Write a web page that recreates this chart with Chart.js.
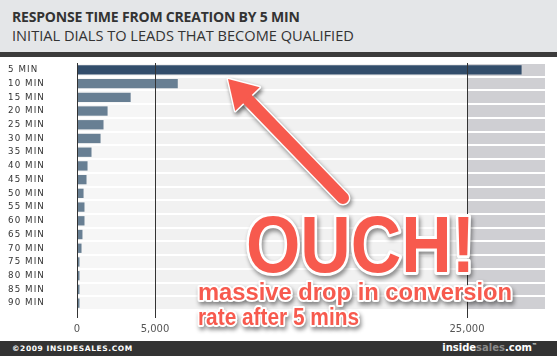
<!DOCTYPE html>
<html><head><meta charset="utf-8">
<script src="https://cdn.jsdelivr.net/npm/chart.js@4/dist/chart.umd.min.js"></script>
<style>
html,body{margin:0;padding:0;background:#fff;}
#wrap{position:relative;width:557px;height:356px;overflow:hidden;}
#c{position:absolute;left:0;top:0;}
#head{position:absolute;left:0;top:0;width:557px;height:52px;background:#e4e6e8;border-bottom:5px solid #3b3b3b;}
#t1{position:absolute;left:12px;top:7px;font:bold 14px 'Open Sans';color:#333;white-space:nowrap;letter-spacing:-0.2px;}
#t2{position:absolute;left:12px;top:25px;font:14.6px 'Open Sans';color:#333;white-space:nowrap;letter-spacing:0px;}
#foot{position:absolute;left:0;top:341px;width:557px;height:15px;background:#333;}
#f1{position:absolute;left:12px;top:3px;font:bold 7.5px 'DejaVu Sans';color:#fff;letter-spacing:0.6px;white-space:nowrap;}
#f2{position:absolute;right:20px;top:1px;font:bold 10px 'DejaVu Sans';color:#fff;white-space:nowrap;}
#f2 span{color:#8a8a8a;}
#f2 sup{font-size:5px;vertical-align:top;}
</style></head>
<body>
<div id="wrap">
<canvas id="c" width="557" height="356"></canvas>
<div id="head"><div id="t1">RESPONSE TIME FROM CREATION BY 5 MIN</div><div id="t2">INITIAL DIALS TO LEADS THAT BECOME QUALIFIED</div></div>
<div id="foot"><div id="f1">©2009 INSIDESALES.COM</div><div id="f2">inside<span>sales</span>.com<sup>™</sup></div></div>
</div>
<script>
const categories = ['5 MIN','10 MIN','15 MIN','20 MIN','25 MIN','30 MIN','35 MIN','40 MIN','45 MIN','50 MIN','55 MIN','60 MIN','65 MIN','70 MIN','75 MIN','80 MIN','85 MIN','90 MIN'];
const qualified = [28500, 6460, 3440, 1960, 1700, 1510, 930, 675, 610, 420, 480, 480, 350, 290, 160, 160, 160, 160];
const tickValues = [0, 5000, 25000];
const axisMax = 30000;
const headline = 'OUCH!';
const noteLines = ['massive drop in conversion', 'rate after 5 mins'];

const barColors = qualified.map((v, i) => i === 0 ? '#324d6b' : '#687f93');

const bgPlugin = {
  id: 'bg',
  beforeDraw(chart) {
    const {ctx, chartArea: a, scales: {x}} = chart;
    ctx.save();
    const zones = [[0, tickValues[1], '#f6f6f6'], [tickValues[1], tickValues[2], '#f1f1f1'], [tickValues[2], axisMax, '#cfcfd3']];
    zones.forEach(([s, e, c]) => {
      const x0 = x.getPixelForValue(s), x1 = x.getPixelForValue(e);
      ctx.fillStyle = c;
      ctx.fillRect(x0, a.top, x1 - x0, a.bottom - a.top);
    });
    ctx.restore();
    ctx.letterSpacing = '1.1px';
  },
  beforeDatasetsDraw(chart) {
    chart.ctx.letterSpacing = '0px';
  }
};

function outlinedText(ctx, text, x, y, targetW, font, strokeW) {
  ctx.save();
  ctx.font = font;
  const w = ctx.measureText(text).width;
  const sx = targetW / w;
  ctx.translate(x, y);
  ctx.scale(sx, 1);
  ctx.lineJoin = 'round';
  ctx.textBaseline = 'alphabetic';
  ctx.textAlign = 'left';
  ctx.shadowColor = 'rgba(0,0,0,0.45)';
  ctx.shadowBlur = 4;
  ctx.shadowOffsetX = 1.5;
  ctx.shadowOffsetY = 2.5;
  ctx.strokeStyle = '#ffffff';
  ctx.lineWidth = strokeW;
  ctx.strokeText(text, 0, 0);
  ctx.shadowColor = 'transparent';
  ctx.fillStyle = '#f75a4e';
  ctx.fillText(text, 0, 0);
  ctx.restore();
}

const notePlugin = {
  id: 'note',
  afterDraw(chart) {
    const ctx = chart.ctx;
    ctx.save();
    const tip = [228, 79], tail = [343, 198];
    const dx = tail[0] - tip[0], dy = tail[1] - tip[1];
    const L = Math.hypot(dx, dy), ux = dx / L, uy = dy / L, nx = uy, ny = -ux;
    const hl = 28, hw = 17;
    const bx = tip[0] + ux * hl, by = tip[1] + uy * hl;
    const drawArrow = (extra, color, shadow) => {
      ctx.save();
      if (shadow) { ctx.shadowColor = 'rgba(0,0,0,0.45)'; ctx.shadowBlur = 4; ctx.shadowOffsetX = 1.5; ctx.shadowOffsetY = 2.5; }
      ctx.strokeStyle = color; ctx.fillStyle = color;
      ctx.lineCap = 'round'; ctx.lineJoin = 'round';
      ctx.lineWidth = 12 + extra;
      ctx.beginPath(); ctx.moveTo(bx - ux * 2, by - uy * 2); ctx.lineTo(tail[0], tail[1]); ctx.stroke();
      ctx.beginPath();
      ctx.moveTo(tip[0], tip[1]);
      ctx.lineTo(bx + nx * hw, by + ny * hw);
      ctx.lineTo(bx - nx * hw, by - ny * hw);
      ctx.closePath();
      ctx.fill();
      if (extra) { ctx.lineWidth = extra; ctx.stroke(); }
      ctx.restore();
    };
    drawArrow(3, '#ffffff', true);
    drawArrow(0, '#f75a4e', false);
    ctx.restore();
    outlinedText(ctx, headline, 246, 272, 229, 'bold 80px "Liberation Sans"', 6);
    outlinedText(ctx, noteLines[0], 198, 300, 314, 'bold 23px "Liberation Sans"', 4);
    outlinedText(ctx, noteLines[1], 198, 325, 161, 'bold 23px "Liberation Sans"', 4);
  }
};

new Chart(document.getElementById('c'), {
  type: 'bar',
  data: {
    labels: categories,
    datasets: [{
      data: qualified,
      backgroundColor: barColors,
      borderWidth: 0,
      barPercentage: 0.68,
      categoryPercentage: 1.0
    }]
  },
  options: {
    indexAxis: 'y',
    responsive: false,
    devicePixelRatio: 1,
    animation: false,
    events: [],
    layout: {padding: {top: 63, left: 8, right: 12, bottom: 16}},
    plugins: {legend: {display: false}, tooltip: {enabled: false}, title: {display: false}},
    scales: {
      x: {
        type: 'linear',
        min: 0,
        max: axisMax,
        afterBuildTicks(scale) { scale.ticks = tickValues.map(v => ({value: v})); },
        afterFit(scale) { scale.height = 30; },
        grid: {color: '#333333', lineWidth: 1, tickLength: 8, z: 1},
        border: {display: false},
        ticks: {
          z: 1,
          padding: 5,
          color: '#555555',
          font: {family: 'DejaVu Sans', size: 10},
          callback: v => v.toLocaleString('en-US')
        }
      },
      y: {
        afterFit(scale) { scale.width = 69; },
        grid: {color: '#ffffff', lineWidth: 2, drawTicks: false, offset: true},
        border: {display: false},
        ticks: {
          crossAlign: 'far',
          padding: 0,
          color: '#333333',
          font: {family: 'DejaVu Sans', size: 8.7}
        }
      }
    }
  },
  plugins: [bgPlugin, notePlugin]
});
</script>
</body></html>
